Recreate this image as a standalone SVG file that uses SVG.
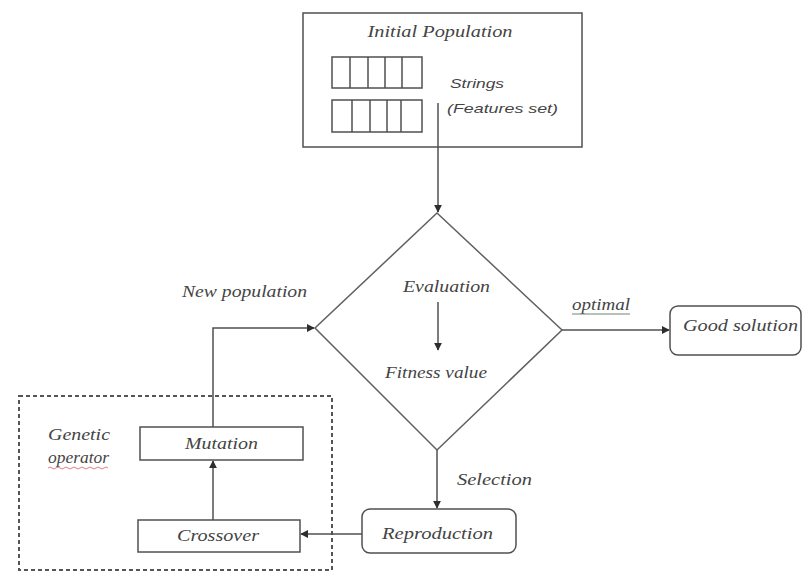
<svg xmlns="http://www.w3.org/2000/svg" width="802" height="572" viewBox="0 0 802 572">
  <style>
    .box { fill: #ffffff; stroke: #505050; stroke-width: 1.5; }
    .cell { fill: none; stroke: #505050; stroke-width: 1.5; }
    .edge { fill: none; stroke: #505050; stroke-width: 1.5; }
    .lbl { font-family: "Liberation Serif", "Times New Roman", serif; font-style: italic; font-size: 16px; fill: #444444; }
    .sans { font-family: "Liberation Sans", Arial, sans-serif; font-style: italic; font-size: 13.5px; fill: #444444; }
    .mid { text-anchor: middle; }
  </style>
  <defs>
    <marker id="head" viewBox="0 0 10 10" refX="9" refY="5" markerWidth="8" markerHeight="8" markerUnits="userSpaceOnUse" orient="auto">
      <path d="M0,0 L10,5 L0,10 z" fill="#2e2e2e"/>
    </marker>
  </defs>

  <rect width="802" height="572" fill="#ffffff"/>

  <!-- genetic operator region -->
  <g id="genetic-operator">
    <rect x="19" y="396" width="313" height="174" fill="none" stroke="#555555" stroke-width="2" stroke-dasharray="4 3"/>
    <text class="lbl" x="48" y="440" textLength="62" lengthAdjust="spacingAndGlyphs">Genetic</text>
    <text class="lbl" x="48" y="463" textLength="61" lengthAdjust="spacingAndGlyphs">operator</text>
    <path d="M48,468 q2,-2 4,0 t4,0 t4,0 t4,0 t4,0 t4,0 t4,0 t4,0 t4,0 t4,0 t4,0 t4,0 t4,0 t4,0 t4,0" fill="none" stroke="#e07070" stroke-width="0.9"/>
  </g>

  <!-- connectors -->
  <g id="connectors">
    <line class="edge" x1="438" y1="103" x2="438" y2="212" marker-end="url(#head)"/>
    <line class="edge" x1="438" y1="302" x2="438" y2="350" marker-end="url(#head)"/>
    <line class="edge" x1="562" y1="330" x2="669" y2="330" marker-end="url(#head)"/>
    <line class="edge" x1="437" y1="450" x2="437" y2="508" marker-end="url(#head)"/>
    <line class="edge" x1="362" y1="534" x2="301" y2="534" marker-end="url(#head)"/>
    <line class="edge" x1="213" y1="520" x2="213" y2="461" marker-end="url(#head)"/>
    <polyline class="edge" points="213,427 213,328 314,328" marker-end="url(#head)"/>
  </g>

  <!-- initial population -->
  <g id="initial-population">
    <rect x="303" y="13" width="279" height="134" fill="none" stroke="#505050" stroke-width="1.5"/>
    <text class="lbl mid" x="440" y="37" textLength="145" lengthAdjust="spacingAndGlyphs">Initial Population</text>
    <rect class="cell" x="332" y="57" width="90" height="31"/>
    <path class="cell" d="M350,57 V88 M368,57 V88 M385,57 V88 M402,57 V88"/>
    <rect class="cell" x="332" y="100" width="90" height="32"/>
    <path class="cell" d="M352,100 V132 M370,100 V132 M387,100 V132 M401,100 V132"/>
    <text class="sans" x="450" y="88" textLength="54" lengthAdjust="spacingAndGlyphs">Strings</text>
    <text class="sans" x="447" y="113" textLength="111" lengthAdjust="spacingAndGlyphs">(Features set)</text>
  </g>

  <!-- evaluation decision -->
  <g id="evaluation">
    <polygon points="437,213 562,330 437,450 315,328" fill="none" stroke="#606060" stroke-width="1.5"/>
    <text class="lbl" x="403" y="292" textLength="87" lengthAdjust="spacingAndGlyphs">Evaluation</text>
    <text class="lbl" x="385" y="378" textLength="102" lengthAdjust="spacingAndGlyphs">Fitness value</text>
  </g>

  <!-- edge labels -->
  <g id="labels">
    <text class="lbl" x="182" y="297" textLength="125" lengthAdjust="spacingAndGlyphs">New population</text>
    <text class="lbl" x="572" y="310" textLength="58" lengthAdjust="spacingAndGlyphs">optimal</text>
    <line x1="572" y1="314" x2="630" y2="314" stroke="#6f8a6f" stroke-width="1"/>
    <text class="lbl" x="457" y="485" textLength="75" lengthAdjust="spacingAndGlyphs">Selection</text>
  </g>

  <!-- good solution -->
  <g id="good-solution">
    <rect class="box" x="670" y="306" width="131" height="49" rx="8"/>
    <text class="lbl" x="683" y="331" textLength="115" lengthAdjust="spacingAndGlyphs">Good solution</text>
  </g>

  <!-- reproduction -->
  <g id="reproduction">
    <rect class="box" x="362" y="509" width="154" height="44" rx="8"/>
    <text class="lbl" x="382" y="539" textLength="111" lengthAdjust="spacingAndGlyphs">Reproduction</text>
  </g>

  <!-- mutation -->
  <g id="mutation">
    <rect class="box" x="140" y="427" width="163" height="33"/>
    <text class="lbl" x="185" y="449" textLength="73" lengthAdjust="spacingAndGlyphs">Mutation</text>
  </g>

  <!-- crossover -->
  <g id="crossover">
    <rect class="box" x="138" y="520" width="162" height="32"/>
    <text class="lbl" x="177" y="541" textLength="82" lengthAdjust="spacingAndGlyphs">Crossover</text>
  </g>
</svg>
